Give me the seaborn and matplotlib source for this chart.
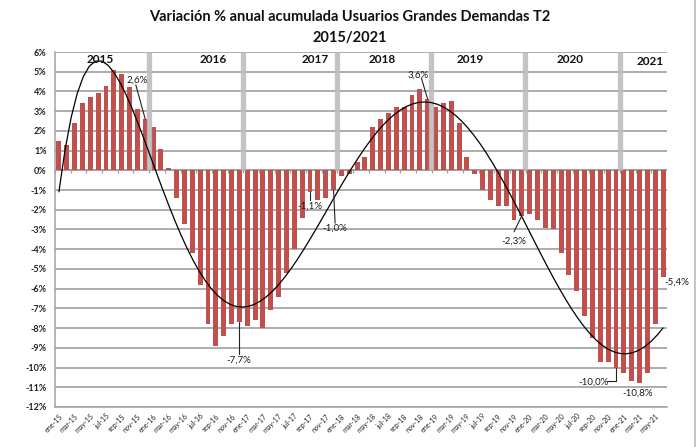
import numpy as np
import pandas as pd
import matplotlib
matplotlib.use("Agg")
import matplotlib.pyplot as plt
import seaborn as sns

# ---------------- data ----------------
months = ["ene", "feb", "mar", "abr", "may", "jun", "jul", "ago", "sep", "oct", "nov", "dic"]
years = ["15", "16", "17", "18", "19", "20", "21"]
values = [
    1.5, 1.3, 2.4, 3.4, 3.7, 3.9, 4.3, 5.1, 4.9, 4.2, 3.1, 2.6,          # 2015
    2.2, 1.1, 0.1, -1.4, -2.7, -4.2, -5.8, -7.8, -8.9, -8.4, -7.8, -7.7,  # 2016
    -7.9, -7.6, -8.0, -7.1, -6.4, -5.2, -4.0, -2.4, -1.1, -1.5, -1.4, -1.0,  # 2017
    -0.3, -0.2, 0.4, 0.7, 2.2, 2.6, 2.9, 3.2, 3.2, 3.8, 4.1, 3.6,        # 2018
    3.2, 3.4, 3.5, 2.4, 0.7, -0.2, -1.0, -1.5, -1.8, -1.8, -2.5, -2.3,   # 2019
    -2.2, -2.5, -2.9, -3.0, -4.2, -5.3, -6.1, -7.4, -8.5, -9.7, -9.7, -10.0,  # 2020
    -10.3, -10.7, -10.8, -10.3, -7.8, -5.4,                             # 2021
]
periods = [f"{m}-{y}" for y in years for m in months][:len(values)]
year_labels = ["2015", "2016", "2017", "2018", "2019", "2020", "2021"]
yticks = list(range(-12, 7))
annot_text = ["2,6%", "3,6%", "-1,1%", "-1,0%", "-7,7%", "-2,3%", "-10,0%", "-10,8%", "-5,4%"]
title = "Variación % anual acumulada Usuarios Grandes Demandas T2\n2015/2021"

# ---------------- style ----------------
sns.set_theme(style="white")
plt.rcParams["font.family"] = ["Lato", "DejaVu Sans"]

W, H = 697, 447
fig = plt.figure(figsize=(W / 100, H / 100), dpi=100)
ax = fig.add_axes([55 / W, 1 - 407 / H, (667 - 55) / W, (407 - 52) / H])

df = pd.DataFrame({"periodo": periods, "valor": values})
sns.barplot(data=df, x="periodo", y="valor", color="#C0504D", saturation=1,
            width=0.62, ax=ax, zorder=2, linewidth=0)

n = len(values)
ax.set_xlim(-0.5, n - 0.5)
ax.set_ylim(-12, 6)

# grid
ax.set_yticks(yticks)
ax.set_yticklabels([f"{v}%" for v in yticks], fontsize=6.5, fontweight="bold", color="#222222")
ax.yaxis.grid(True, color="#9E9E9E", lw=1.2)
ax.set_axisbelow(True)
for s in ["top", "right"]:
    ax.spines[s].set_visible(False)
ax.spines["left"].set_color("#A3A3A3")
ax.spines["bottom"].set_color("#A3A3A3")
ax.spines["left"].set_linewidth(1.1)
ax.spines["bottom"].set_linewidth(1.1)
ax.tick_params(axis="y", length=0, pad=6)

# x labels (every 2 months)
xt = list(range(0, n, 2))
ax.set_xticks(xt)
ax.set_xticklabels([periods[i] for i in xt], rotation=45, ha="right",
                   rotation_mode="anchor", fontsize=5, color="#222222")
ax.tick_params(axis="x", length=0, pad=4)

# zero axis with small ticks
ax.axhline(0, color="#9E9E9E", lw=1.3, zorder=1.5)
ax.vlines(np.arange(-0.5, n, 2), -0.14, 0, color="#9E9E9E", lw=0.9, zorder=1.5)

# year separators (grey bands above zero)
for k in range(1, 7):
    ax.vlines(12 * k - 0.55, 0, 6, color="#BDBDBD", lw=3.8, zorder=3, alpha=0.9)

# polynomial trend (order 6) of the bars
sns.regplot(x=np.arange(n), y=np.array(values), order=6, scatter=False, ci=None,
            truncate=True, ax=ax, line_kws=dict(color="black", lw=0.9, zorder=4))
ax.set_xlim(-0.5, n - 0.5)
ax.set_ylim(-12, 6)
ax.set_xlabel("")
ax.set_ylabel("")

# year labels
ypos = [5.64, 5.64, 5.64, 5.64, 5.64, 5.64, 5.52]
xpos = [5.3, 19.6, 32.6, 41.2, 52.4, 65.1, 75.3]
for t, x, y in zip(year_labels, xpos, ypos):
    ax.text(x, y, t, ha="center", va="center", fontsize=8.5, fontweight="bold",
            color="#111111", zorder=6)

# annotations
akw = dict(fontsize=7, color="#1A1A1A", zorder=6, ha="center", va="center", clip_on=False)
lkw = dict(color="#222222", lw=0.8, zorder=5, clip_on=False)
ax.text(9.95, 4.58, annot_text[0], **akw)
ax.plot([9.8, 11.0], [4.33, values[11]], **lkw)
ax.text(45.8, 4.83, annot_text[1], **akw)
ax.plot([46.2, 47.0], [4.67, values[47]], **lkw)
ax.text(32.0, -1.82, annot_text[2], **akw)
ax.plot([32.0, 32.0], [values[32], -1.5], **lkw)
ax.text(35.2, -2.93, annot_text[3], **akw)
ax.plot([35.0, 35.2], [values[35], -2.68], **lkw)
ax.text(22.9, -9.65, annot_text[4], **akw)
ax.plot([23.0, 23.0], [values[23], -9.3], **lkw)
ax.text(58.0, -3.57, annot_text[5], **akw)
ax.plot([58.0, 59.0], [-3.12, values[59]], **lkw)
ax.text(68.1, -10.74, annot_text[6], **akw)
ax.plot([69.9, 71.0, 71.0], [-10.67, -10.67, values[71]], **lkw)
ax.text(73.8, -11.28, annot_text[7], **akw)
ax.text(78.8, -5.68, annot_text[8], **akw)

# title
fig.text(350 / W, 1 - 17 / H, title.split("\n")[0], ha="center", va="center",
         fontsize=10.5, fontweight="bold", color="#111111")
fig.text(350 / W, 1 - 38 / H, title.split("\n")[1], ha="center", va="center",
         fontsize=10.5, fontweight="bold", color="#111111")

# chart border on the right
fig.add_artist(plt.Line2D([695 / W, 695 / W], [0, 1], color="#BBBBBB", lw=1.2))

fig.savefig("out.png", dpi=100)
